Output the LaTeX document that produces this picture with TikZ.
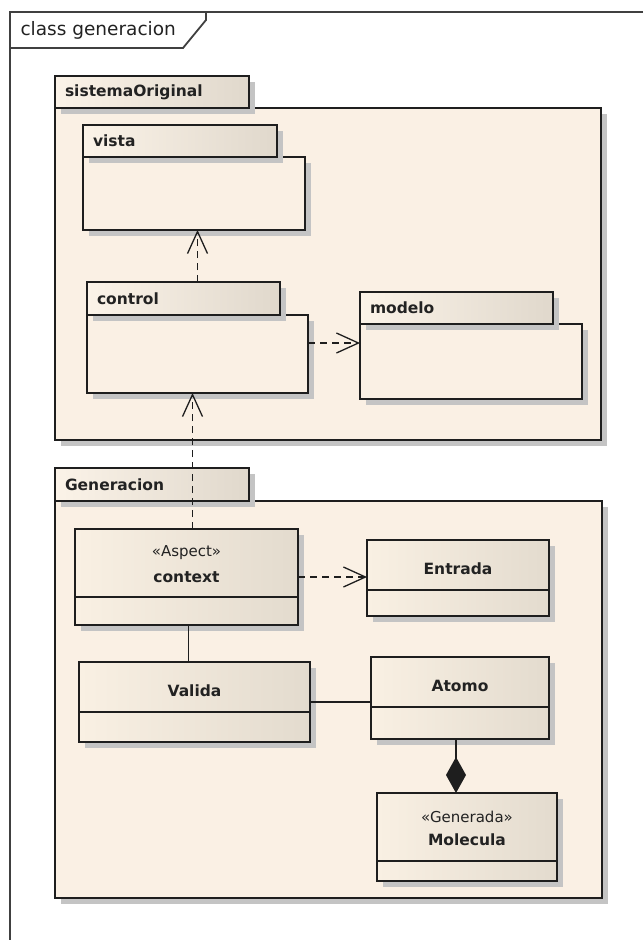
\documentclass[tikz,border=0pt]{standalone}
\usepackage{fontspec}
\setmainfont{DejaVu Sans}
\usetikzlibrary{arrows.meta,shadows,positioning}

\definecolor{linegray}{HTML}{1E1E1E}
\definecolor{textgray}{HTML}{222222}
\definecolor{pkgfill}{HTML}{FAF0E4}
\definecolor{tableft}{HTML}{FBF3E8}
\definecolor{tabright}{HTML}{E0D8CC}
\definecolor{clsleft}{HTML}{F9F0E3}
\definecolor{clsright}{HTML}{E3DBCE}
\definecolor{shadowgray}{HTML}{C4C4C4}

\tikzset{
  frame/.style={draw=linegray!85, line width=1.8pt},
  shade/.style={drop shadow={shadow xshift=6pt, shadow yshift=-6pt, fill=shadowgray, opacity=1}},
  pkgbody/.style={draw=linegray, line width=1.8pt, fill=pkgfill, anchor=north west,
    outer sep=0pt, inner sep=0pt, shade},
  pkgtab/.style={draw=linegray, line width=1.8pt, left color=tableft, right color=tabright,
    anchor=south west, outer sep=0pt, inner xsep=10pt, inner ysep=0pt, align=left,
    text=textgray, font=\fontsize{15.5}{18}\selectfont\bfseries, shade},
  cls/.style={draw=linegray, line width=1.8pt, left color=clsleft, right color=clsright,
    anchor=north west, outer sep=0pt, inner sep=0pt, shade},
  split/.style={draw=linegray, line width=1.8pt},
  clsname/.style={text=textgray, font=\fontsize{15.5}{18}\selectfont\bfseries},
  stereo/.style={text=textgray, font=\fontsize{15}{18}\selectfont},
  dep/.style={draw=linegray, line width=1.5pt, dash pattern=on 7pt off 5pt,
    -{Straight Barb[length=22pt, width=20pt, line width=1.3pt]}},
  assoc/.style={draw=linegray, line width=1.5pt},
  comp/.style={assoc, -{Diamond[length=36pt, width=20pt]}}
}

\begin{document}
\begin{tikzpicture}[x=1pt, y=-1pt]
  \useasboundingbox (0,0) rectangle (643,940);

  % frame
  \draw[frame] (643,12) -- (10,12) -- (10,940);
  \draw[frame] (10,48) -- (183,48) -- (206,20) -- (206,12);
  \node[anchor=west, text=textgray, font=\fontsize{18.5}{20}\selectfont] (title) at (17,30) {class generacion};

  % packages
  \node[pkgbody, minimum width=546, minimum height=332] (sistema) at (55,108) {};
  \node[pkgtab, text width=174, minimum height=32] (sistematab) at (sistema.north west) {sistemaOriginal};

  \node[pkgbody, minimum width=222, minimum height=73] (vista) at (83,157) {};
  \node[pkgtab, text width=174, minimum height=32] (vistatab) at (vista.north west) {vista};

  \node[pkgbody, minimum width=221, minimum height=78] (control) at (87,315) {};
  \node[pkgtab, text width=173, minimum height=33] (controltab) at (control.north west) {control};

  \node[pkgbody, minimum width=222, minimum height=75] (modelo) at (360,324) {};
  \node[pkgtab, text width=173, minimum height=32] (modelotab) at (modelo.north west) {modelo};

  \node[pkgbody, minimum width=547, minimum height=397] (generacion) at (55,501) {};
  \node[pkgtab, text width=174, minimum height=33] (generaciontab) at (generacion.north west) {Generacion};

  % classes
  \foreach \n/\x/\y/\w/\h/\s in {context/75/529/223/96/68, entrada/367/540/182/76/50,
      valida/79/662/231/80/50, atomo/371/657/178/82/50, molecula/377/793/180/88/68} {
    \node[cls, minimum width=\w, minimum height=\h] (\n) at (\x,\y) {};
    \draw[split] ([yshift=-\s pt]\n.north west) -- ([yshift=-\s pt]\n.north east);
  }

  \node[stereo] (contextst) at ([yshift=-24pt]context.north) {«Aspect»};
  \node[clsname] (contextname) at ([yshift=-48pt]context.north) {context};
  \node[clsname] (entradaname) at ([yshift=-29pt]entrada.north) {Entrada};
  \node[clsname] (validaname) at ([yshift=-29pt]valida.north) {Valida};
  \node[clsname] (atomoname) at ([yshift=-29pt]atomo.north) {Atomo};
  \node[stereo] (moleculast) at ([yshift=-24pt]molecula.north) {«Generada»};
  \node[clsname] (moleculaname) at ([yshift=-47pt]molecula.north) {Molecula};

  % dependencies
  \draw[dep] (control.north |- controltab.north) -- (control.north |- vista.south);
  \draw[dep] ([yshift=11pt]control.east) -- ([yshift=11pt]control.east -| modelo.west);
  \draw[dep] ([xshift=6pt]context.north) -- ([xshift=6pt]context.north |- control.south);
  \draw[dep] (context.east) -- (context.east -| entrada.west);

  % associations
  \draw[assoc] ([xshift=2pt]context.south) -- ([xshift=2pt]context.south |- valida.north);
  \draw[assoc] (valida.east) -- (valida.east -| atomo.west);
  \draw[comp] ([xshift=-4pt]atomo.south) -- ([xshift=-4pt]atomo.south |- molecula.north);
\end{tikzpicture}
\end{document}
